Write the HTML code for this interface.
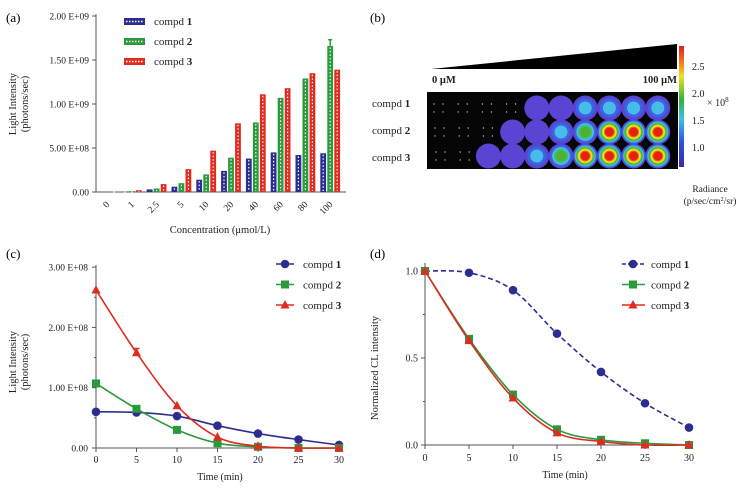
<!DOCTYPE html>
<html><head><meta charset="utf-8"><style>
body{margin:0;background:#fff}
svg{display:block;font-family:"Liberation Serif",serif}
</style></head><body>
<svg id="fig" width="741" height="488" viewBox="0 0 741 488">
<text x="6" y="22" font-size="13">(a)</text>
<text x="370" y="22" font-size="13">(b)</text>
<text x="6" y="258" font-size="13">(c)</text>
<text x="370" y="258" font-size="13">(d)</text>
</svg>
<script>
const NS='http://www.w3.org/2000/svg';
const svg=document.getElementById('fig');
function mk(tag,attrs,parent,text){const e=document.createElementNS(NS,tag);for(const k in attrs)e.setAttribute(k,attrs[k]);if(text!==undefined)e.textContent=text;(parent||svg).appendChild(e);return e;}
function grp(name){const g=mk('g',{});return g;}
function lbl(g,x,y,t,size,anchor,extra){const e=mk('text',Object.assign({x:x,y:y,'font-size':size||10,'text-anchor':anchor||'start',fill:'#222'},extra||{}),g,t);return e;}
function legendText(g,x,y,n){const t=mk('text',{x:x,y:y,'font-size':11,fill:'#222'},g);mk('tspan',{},t,'compd ');mk('tspan',{'font-weight':'bold'},t,n);return t;}

/* ---------- Panel A data ---------- */
const aCategories=['0','1','2.5','5','10','20','40','60','80','100'];
const aCompd1=[0,0.05,0.3,0.6,1.4,2.4,3.8,4.5,4.2,4.4];
const aCompd2=[0,0.1,0.4,1.0,2.0,3.9,7.9,10.7,12.9,16.6];
const aCompd3=[0.05,0.2,0.9,2.6,4.7,7.8,11.1,11.8,13.5,13.9];
const aTicks=[0,5,10,15,20];
const aTickLabels=['0.00','5.00 E+08','1.00 E+09','1.50 E+09','2.00 E+09'];
(function(){
  const g=grp('chart-a');
  const y=v=>192-v*8.8; const xc=i=>107+i*24.8;
  mk('line',{x1:96,y1:14,x2:96,y2:192,stroke:'#555'},g);
  mk('line',{x1:96,y1:192,x2:346,y2:192,stroke:'#555'},g);
  aTicks.forEach((t,i)=>{mk('line',{x1:92,y1:y(t),x2:96,y2:y(t),stroke:'#555'},g);
    const e=lbl(g,89,y(t)+3.5,aTickLabels[i],9.5,'end');});
  const cols=['#2b2e8f','#2a9a3c','#e02b20'];
  [aCompd1,aCompd2,aCompd3].forEach((s,si)=>{
    s.forEach((v,i)=>{
      const cx=xc(i)+(si-1)*7; const h=v*8.8;
      if(h>0.3){const r=mk('rect',{x:cx-2.9,y:192-h,width:5.8,height:h,fill:cols[si]},g);
      
      mk('line',{x1:cx,y1:192-h+1.5,x2:cx,y2:191,stroke:'#fff','stroke-width':1.2,'stroke-dasharray':'1.5 2'},g);}
    });
  });
  mk('line',{x1:xc(9),y1:y(17.3),x2:xc(9),y2:y(16.6),stroke:'#2a9a3c','stroke-width':1.5},g);
  mk('line',{x1:xc(9)-2,y1:y(17.3),x2:xc(9)+2,y2:y(17.3),stroke:'#2a9a3c','stroke-width':1.5},g);
  aCategories.forEach((c,i)=>{const x=xc(i)+3,yy=205;const e=mk('text',{x:x,y:yy,'font-size':9.5,'text-anchor':'end',transform:`rotate(-45 ${x} ${yy})`,fill:'#222'},g,c);
    });
  lbl(g,220,233,'Concentration (μmol/L)',10.5,'middle');
  lbl(g,0,0,'Light Intensity',10.5,'middle',{transform:'translate(16 104) rotate(-90)'});
  lbl(g,0,0,'(photons/sec)',10.5,'middle',{transform:'translate(28 104) rotate(-90)'});
  [0,1,2].forEach(k=>{const yy=22+k*20;
    const r=mk('rect',{x:124,y:yy-4,width:21,height:7,fill:cols[k]},g);
    mk('line',{x1:126,y1:yy-0.5,x2:143,y2:yy-0.5,stroke:'#fff','stroke-width':1.5,'stroke-dasharray':'1.5 1.5'},g);
    legendText(g,154,yy+3,String(k+1));});
})();

/* ---------- Panel B data ---------- */
const bRowLabels=['1','2','3'];
const bRadiance1=[0,0,0,0,0.8,0.85,1.3,1.35,1.3,1.3];
const bRadiance2=[0,0,0,0.8,0.85,1.3,1.9,2.5,2.8,2.9];
const bRadiance3=[0,0,0.8,0.9,1.4,1.8,2.7,2.6,2.8,2.8];
const bBarTicks=[1.0,1.5,2.0,2.5];
(function(){
  const g=grp('heatmap-b');
  mk('polygon',{points:'431,69 677,44 677,69',fill:'#000'},g);
  lbl(g,432,83,'0 μM',10.5,'start',{'font-weight':'bold'});
  lbl(g,677,83,'100 μM',10.5,'end',{'font-weight':'bold'});
  mk('rect',{x:427,y:92,width:251,height:77,fill:'#050505'},g);
  const lev=[[0.8,'#5a44d4'],[1.1,'#3a64e4'],[1.3,'#48bce8'],[1.6,'#40c070'],[1.8,'#50b030'],[2.0,'#d0e020'],[2.2,'#f0e020'],[2.35,'#f07020'],[2.5,'#e82010']];
  [bRadiance1,bRadiance2,bRadiance3].forEach((row,ri)=>{
    const cy=108+ri*24;
    row.forEach((v,ci)=>{const cx=440+ci*24.2;
      if(v<0.7){for(let d=0;d<4;d++)mk('circle',{cx:cx-6+(d%2)*9+ri,cy:cy-4+Math.floor(d/2)*8,r:0.7,fill:'#bbb'},g);return;}
      const used=lev.filter(l=>l[0]<=v);
      used.forEach((l,k)=>{const r=12.5-(k/Math.max(used.length,1))*(used.length>2?9:5.5);
        const c=mk('circle',{cx:cx,cy:cy,r:Math.max(r,3),fill:l[1]},g);
        if(k===0){}});
    });
  });
  const defs=mk('defs',{},svg);
  const lg=mk('linearGradient',{id:'cb',x1:0,y1:1,x2:0,y2:0},defs);
  [['0','#3a2aa0'],['0.2','#3050e0'],['0.4','#40c0e8'],['0.55','#30b040'],['0.75','#f0e020'],['0.88','#f07020'],['1','#e02020']].forEach(s=>mk('stop',{offset:s[0],'stop-color':s[1]},lg));
  const cb=mk('rect',{x:679,y:46,width:5,height:121,fill:'url(#cb)'},g);
  const yb=v=>147-(v-1.0)*54;
  bBarTicks.forEach(t=>lbl(g,692,yb(t)+4,t.toFixed(1),10));
  const e=mk('text',{x:707,y:106,'font-size':10,fill:'#222'},g,'× 10');mk('tspan',{dy:-4,'font-size':7},e,'8');
  lbl(g,710,192,'Radiance',9.5,'middle');
  const r2=mk('text',{x:710,y:204,'font-size':9.5,'text-anchor':'middle',fill:'#222'},g,'(p/sec/cm');mk('tspan',{dy:-3,'font-size':6.5},r2,'2');mk('tspan',{dy:3},r2,'/sr)');
  bRowLabels.forEach((n,i)=>{const t=mk('text',{x:372,y:107+i*27,'font-size':11,fill:'#222'},g);mk('tspan',{},t,'compd ');mk('tspan',{'font-weight':'bold'},t,n);});
})();

/* ---------- Line chart helpers ---------- */
function smoothPath(pts){let d=`M${pts[0][0]},${pts[0][1]}`;
  for(let i=0;i<pts.length-1;i++){const p0=pts[i-1]||pts[i],p1=pts[i],p2=pts[i+1],p3=pts[i+2]||p2;
    d+=` C${p1[0]+(p2[0]-p0[0])/6},${p1[1]+(p2[1]-p0[1])/6} ${p2[0]-(p3[0]-p1[0])/6},${p2[1]-(p3[1]-p1[1])/6} ${p2[0]},${p2[1]}`;}return d;}
function marker(g,shape,x,y,c){if(shape==='c')return mk('circle',{cx:x,cy:y,r:4.3,fill:c},g);
  if(shape==='s')return mk('rect',{x:x-4,y:y-4,width:8,height:8,fill:c},g);
  return mk('polygon',{points:`${x},${y-5} ${x+4.5},${y+3.5} ${x-4.5},${y+3.5}`,fill:c},g);}
const cols=['#2b2e8f','#2a9a3c','#e02b20'],shapes=['c','s','t'];

/* ---------- Panel C data ---------- */
const cTimes=[0,5,10,15,20,25,30];
const cCompd1=[0.6,0.59,0.53,0.37,0.24,0.14,0.05];
const cCompd2=[1.07,0.65,0.3,0.08,0.02,0.0,0.0];
const cCompd3=[2.62,1.58,0.7,0.18,0.03,0.0,0.0];
const cTicks=[0,1,2,3];
const cTickLabels=['0.00','1.00 E+08','2.00 E+08','3.00 E+08'];
(function(){
  const g=grp('chart-c');
  const x=t=>96+t*8.1, y=v=>448-v*60.3;
  mk('line',{x1:96,y1:265,x2:96,y2:448,stroke:'#555'},g);
  mk('line',{x1:96,y1:448,x2:342,y2:448,stroke:'#555'},g);
  cTicks.forEach((t,i)=>{mk('line',{x1:92,y1:y(t),x2:96,y2:y(t),stroke:'#555'},g);
    if(t<3)mk('line',{x1:94,y1:y(t+0.5),x2:96,y2:y(t+0.5),stroke:'#555'},g);
    lbl(g,88,y(t)+3.5,cTickLabels[i],9.5,'end');});
  cTimes.forEach(t=>{mk('line',{x1:x(t),y1:448,x2:x(t),y2:452,stroke:'#555'},g);lbl(g,x(t),463,String(t),10,'middle');});
  lbl(g,220,480,'Time (min)',10,'middle');
  lbl(g,0,0,'Light Intensity',10.5,'middle',{transform:'translate(16 362) rotate(-90)'});
  lbl(g,0,0,'(photons/sec)',10.5,'middle',{transform:'translate(28 362) rotate(-90)'});
  [cCompd1,cCompd2,cCompd3].forEach((s,si)=>{
    const pts=s.map((v,i)=>[x(cTimes[i]),y(v)]);
    const p=mk('path',{d:smoothPath(pts),fill:'none',stroke:cols[si],'stroke-width':1.6},g);
    pts.forEach(q=>marker(g,shapes[si],q[0],q[1],cols[si]));
  });
  mk('line',{x1:x(5)-3,y1:y(1.65),x2:x(5)+3,y2:y(1.65),stroke:cols[2],'stroke-width':1.5},g);
  [0,1,2].forEach(k=>{const yy=264+k*20.5;mk('line',{x1:276,y1:yy,x2:294,y2:yy,stroke:cols[k],'stroke-width':1.6},g);marker(g,shapes[k],285,yy,cols[k]);legendText(g,303,yy+4,String(k+1));});
})();

/* ---------- Panel D data ---------- */
const dTimes=[0,5,10,15,20,25,30];
const dCompd1=[1.0,0.99,0.89,0.64,0.42,0.24,0.10];
const dCompd2=[1.0,0.61,0.29,0.09,0.03,0.01,0.0];
const dCompd3=[1.0,0.6,0.27,0.07,0.02,0.0,0.0];
const dTicks=[0,0.5,1.0];
(function(){
  const g=grp('chart-d');
  const x=t=>425+t*8.8, y=v=>445-v*174;
  mk('line',{x1:425,y1:263,x2:425,y2:445,stroke:'#555'},g);
  mk('line',{x1:425,y1:445,x2:692,y2:445,stroke:'#555'},g);
  dTicks.forEach(t=>{mk('line',{x1:421,y1:y(t),x2:425,y2:y(t),stroke:'#555'},g);lbl(g,418,y(t)+3.5,t.toFixed(1),10,'end');});
  [0.25,0.75].forEach(t=>mk('line',{x1:423,y1:y(t),x2:425,y2:y(t),stroke:'#555'},g));
  dTimes.forEach(t=>{mk('line',{x1:x(t),y1:445,x2:x(t),y2:449,stroke:'#555'},g);lbl(g,x(t),461,String(t),10,'middle');});
  lbl(g,565,478,'Time (min)',10,'middle');
  lbl(g,0,0,'Normalized  CL intensity',10.5,'middle',{transform:'translate(378 368) rotate(-90)'});
  [dCompd1,dCompd2,dCompd3].forEach((s,si)=>{
    const pts=s.map((v,i)=>[x(dTimes[i]),y(v)]);
    const p=mk('path',{d:smoothPath(pts),fill:'none',stroke:cols[si],'stroke-width':1.6},g);
    if(si===0)p.setAttribute('stroke-dasharray','5 3');
    
    pts.forEach(q=>marker(g,shapes[si],q[0],q[1],cols[si]));
  });
  [0,1,2].forEach(k=>{const yy=264+k*20.5;const l=mk('line',{x1:622,y1:yy,x2:645,y2:yy,stroke:cols[k],'stroke-width':1.6},g);if(k===0)l.setAttribute('stroke-dasharray','4 2');marker(g,shapes[k],633,yy,cols[k]);legendText(g,651,yy+4,String(k+1));});
})();
</script>
</body></html>
